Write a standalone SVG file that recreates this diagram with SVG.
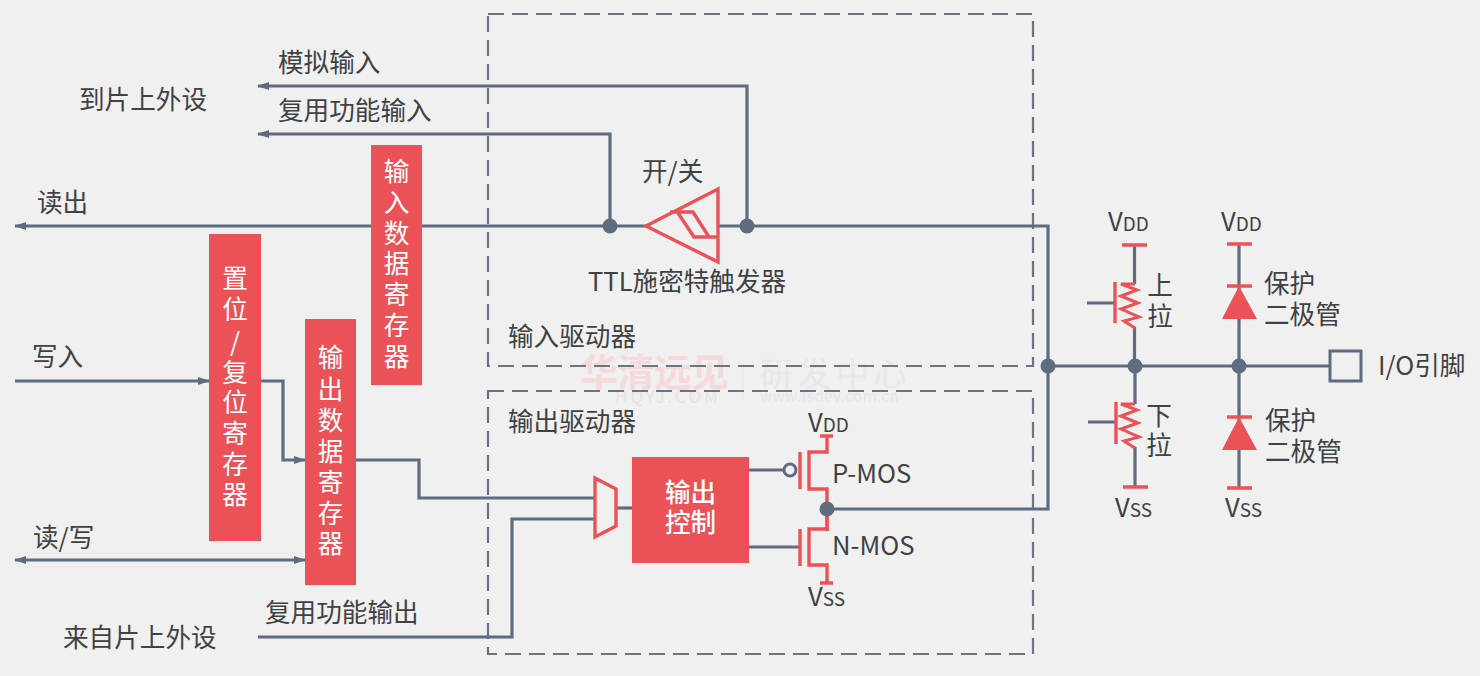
<svg xmlns="http://www.w3.org/2000/svg" width="1480" height="676" viewBox="0 0 1480 676">
<style>
text{font-family:"Noto Sans CJK SC","Noto Sans",sans-serif;font-size:25.6px;fill:#3f4143}
.c{text-anchor:middle}
.w{fill:#fff}
.b{font-weight:500}
.s{font-size:19px}
.l{fill:none;stroke:#5f6b80;stroke-width:3.2}
.d{fill:none;stroke:#6b7486;stroke-width:2.2;stroke-dasharray:16 8}
.r{fill:none;stroke:#eb5257;stroke-width:3.4}
.z{fill:none;stroke:#eb5257;stroke-width:3;stroke-linejoin:miter}
.f{fill:#eb5257}
.n{fill:#5f6b80}
.wm1{font-size:38px;font-weight:700;fill:#f6d9d9;letter-spacing:-1px}
.wm2{font-size:33px;fill:#e8e8e8;letter-spacing:5px}
.wm3{font-size:17px;fill:#e8e2e2;letter-spacing:3px}
.wm4{font-size:15px;fill:#e6e6e6;letter-spacing:.5px}
</style>
<defs>
<marker id="a" viewBox="0 0 12 10" refX="11" refY="5" markerWidth="12" markerHeight="10" markerUnits="userSpaceOnUse" orient="auto-start-reverse"><path d="M0 1L12 5L0 9Z" fill="#5f6b80"/></marker>
</defs>
<rect width="1480" height="676" fill="#f0f0f0"/>
<g id="watermark">
<text class="wm1" x="580" y="386">华清远见</text>
<rect x="742" y="362" width="1.5" height="38" fill="#e8e8e8"/>
<text class="wm2" x="760" y="386">研发中心</text>
<text class="wm3" x="615" y="403">HQYJ.COM</text>
<text class="wm4" x="760" y="402">www.fsdev.com.cn</text>
</g>
<g id="input-driver"><rect class="d" x="488" y="14" width="545" height="352"/><text x="508" y="346">输入驱动器</text></g>
<g id="output-driver"><rect class="d" x="488" y="391" width="545" height="263"/><text x="508" y="431">输出驱动器</text></g>
<g id="connectors">
<path class="l" marker-end="url(#a)" d="M747 226V86H258"/>
<path class="l" marker-end="url(#a)" d="M610 226V134H258"/>
<path class="l" marker-end="url(#a)" d="M646 226H15"/>
<path class="l" d="M718 226H1048V509H827"/>
<path class="l" d="M1048 366H1330"/>
<path class="l" marker-end="url(#a)" d="M15 381H209"/>
<path class="l" marker-end="url(#a)" d="M261 381H283V460H305"/>
<path class="l" marker-start="url(#a)" marker-end="url(#a)" d="M15 560H305"/>
<path class="l" d="M355 460H419V498H595"/>
<path class="l" d="M258 637H512V519H595"/>
<path class="l" d="M616 508H632"/>
<path class="l" d="M749 470H785"/>
<path class="l" d="M749 547H800"/>
<path class="l" d="M1134.500 245V284M1134.500 327V366"/>
<path class="l" d="M1135 366V404M1135 447V487"/>
<path class="l" d="M1239 244V487"/>
<path class="l" d="M1087 303H1115M1088 422H1115"/>
</g>
<g id="nodes-dots">
<circle class="n" cx="610" cy="226" r="7.500"/>
<circle class="n" cx="747" cy="226" r="7.500"/>
<circle class="n" cx="1048" cy="366" r="7.500"/>
<circle class="n" cx="1135" cy="366" r="7.500"/>
<circle class="n" cx="1239" cy="366" r="7.500"/>
</g>
<g id="peripheral-labels">
<text x="278" y="72">模拟输入</text>
<text x="79" y="109">到片上外设</text>
<text x="278" y="120">复用功能输入</text>
<text x="37" y="212">读出</text>
<text x="32" y="366">写入</text>
<text x="33" y="547">读/写</text>
<text x="265" y="622">复用功能输出</text>
<text x="63" y="647">来自片上外设</text>
</g>
<g id="input-data-register"><rect class="f" x="371" y="145" width="51" height="240"/>
<text class="c w"><tspan x="396.500" y="181">输</tspan><tspan x="396.500" y="212">入</tspan><tspan x="396.500" y="243">数</tspan><tspan x="396.500" y="273">据</tspan><tspan x="396.500" y="304">寄</tspan><tspan x="396.500" y="335">存</tspan><tspan x="396.500" y="366">器</tspan></text></g>
<g id="set-reset-register"><rect class="f" x="209" y="234" width="52" height="307"/>
<text class="c w"><tspan x="235" y="288">置</tspan><tspan x="235" y="319">位</tspan><tspan x="235" y="351">/</tspan><tspan x="235" y="382">复</tspan><tspan x="235" y="412">位</tspan><tspan x="235" y="443">寄</tspan><tspan x="235" y="474">存</tspan><tspan x="235" y="504">器</tspan></text></g>
<g id="output-data-register"><rect class="f" x="305" y="319" width="51" height="266"/>
<text class="c w"><tspan x="330.500" y="367">输</tspan><tspan x="330.500" y="399">出</tspan><tspan x="330.500" y="430">数</tspan><tspan x="330.500" y="461">据</tspan><tspan x="330.500" y="492">寄</tspan><tspan x="330.500" y="523">存</tspan><tspan x="330.500" y="553">器</tspan></text></g>
<g id="schmitt-trigger">
<text x="642" y="181">开/关</text>
<path class="r" d="M646 226L718 189V262ZM670 212H693L709 237M678 213L694 237H718"/>
<text x="588" y="291">TTL施密特触发器</text>
</g>
<g id="mux"><path class="r" d="M595 478L616 489V526L595 537Z"/></g>
<g id="output-control"><rect class="f" x="632" y="457" width="117" height="106"/>
<text class="c w b"><tspan x="690.500" y="502">输出</tspan><tspan x="690.500" y="532">控制</tspan></text></g>
<g id="p-mos">
<circle cx="790" cy="470" r="6" fill="#f0f0f0" stroke="#5f6b80" stroke-width="3"/>
<path class="r" d="M800 452V489M820 436H833M827 436V452H809V489H827V531"/>
<text x="808" y="432">V<tspan class="s">DD</tspan></text>
<text x="832" y="483">P-MOS</text>
</g>
<g id="n-mos">
<path class="r" d="M800 529V566M827 509V529H809V565H827V583M820 583H833"/>
<text x="832" y="555">N-MOS</text>
<text x="808" y="606">V<tspan class="s">SS</tspan></text>
<circle class="n" cx="827" cy="509" r="7.500"/>
</g>
<g id="pull-up">
<text x="1108" y="231">V<tspan class="s">DD</tspan></text>
<path class="r" d="M1122 245H1147M1115 282V323"/>
<path class="z" d="M1135 284H1121L1137 290L1121 296L1138 303L1121 309L1139 317L1124 321L1135 328"/>
<text class="c"><tspan x="1160" y="295">上</tspan><tspan x="1160" y="326">拉</tspan></text>
</g>
<g id="pull-down">
<path class="r" d="M1116 402V444M1123 487H1148"/>
<path class="z" d="M1135 404H1121L1137 410L1121 416L1138 423L1121 429L1139 437L1124 441L1135 448"/>
<text class="c"><tspan x="1159" y="425">下</tspan><tspan x="1159" y="455">拉</tspan></text>
<text x="1115" y="517">V<tspan class="s">SS</tspan></text>
</g>
<g id="diode-top">
<text x="1221" y="231">V<tspan class="s">DD</tspan></text>
<path class="r" d="M1227 244H1252M1227 286H1252"/>
<path class="f" d="M1239 286L1222 319H1257Z"/>
<text><tspan x="1264" y="293">保护</tspan><tspan x="1264" y="324">二极管</tspan></text>
</g>
<g id="diode-bottom">
<path class="r" d="M1227 417H1252M1227 488H1252"/>
<path class="f" d="M1239 417L1222 450H1257Z"/>
<text><tspan x="1265" y="430">保护</tspan><tspan x="1265" y="461">二极管</tspan></text>
<text x="1225" y="517">V<tspan class="s">SS</tspan></text>
</g>
<g id="io-pin"><rect x="1330" y="351" width="31" height="30" fill="none" stroke="#5f6b80" stroke-width="3"/>
<text x="1378" y="375">I/O引脚</text></g>
</svg>
